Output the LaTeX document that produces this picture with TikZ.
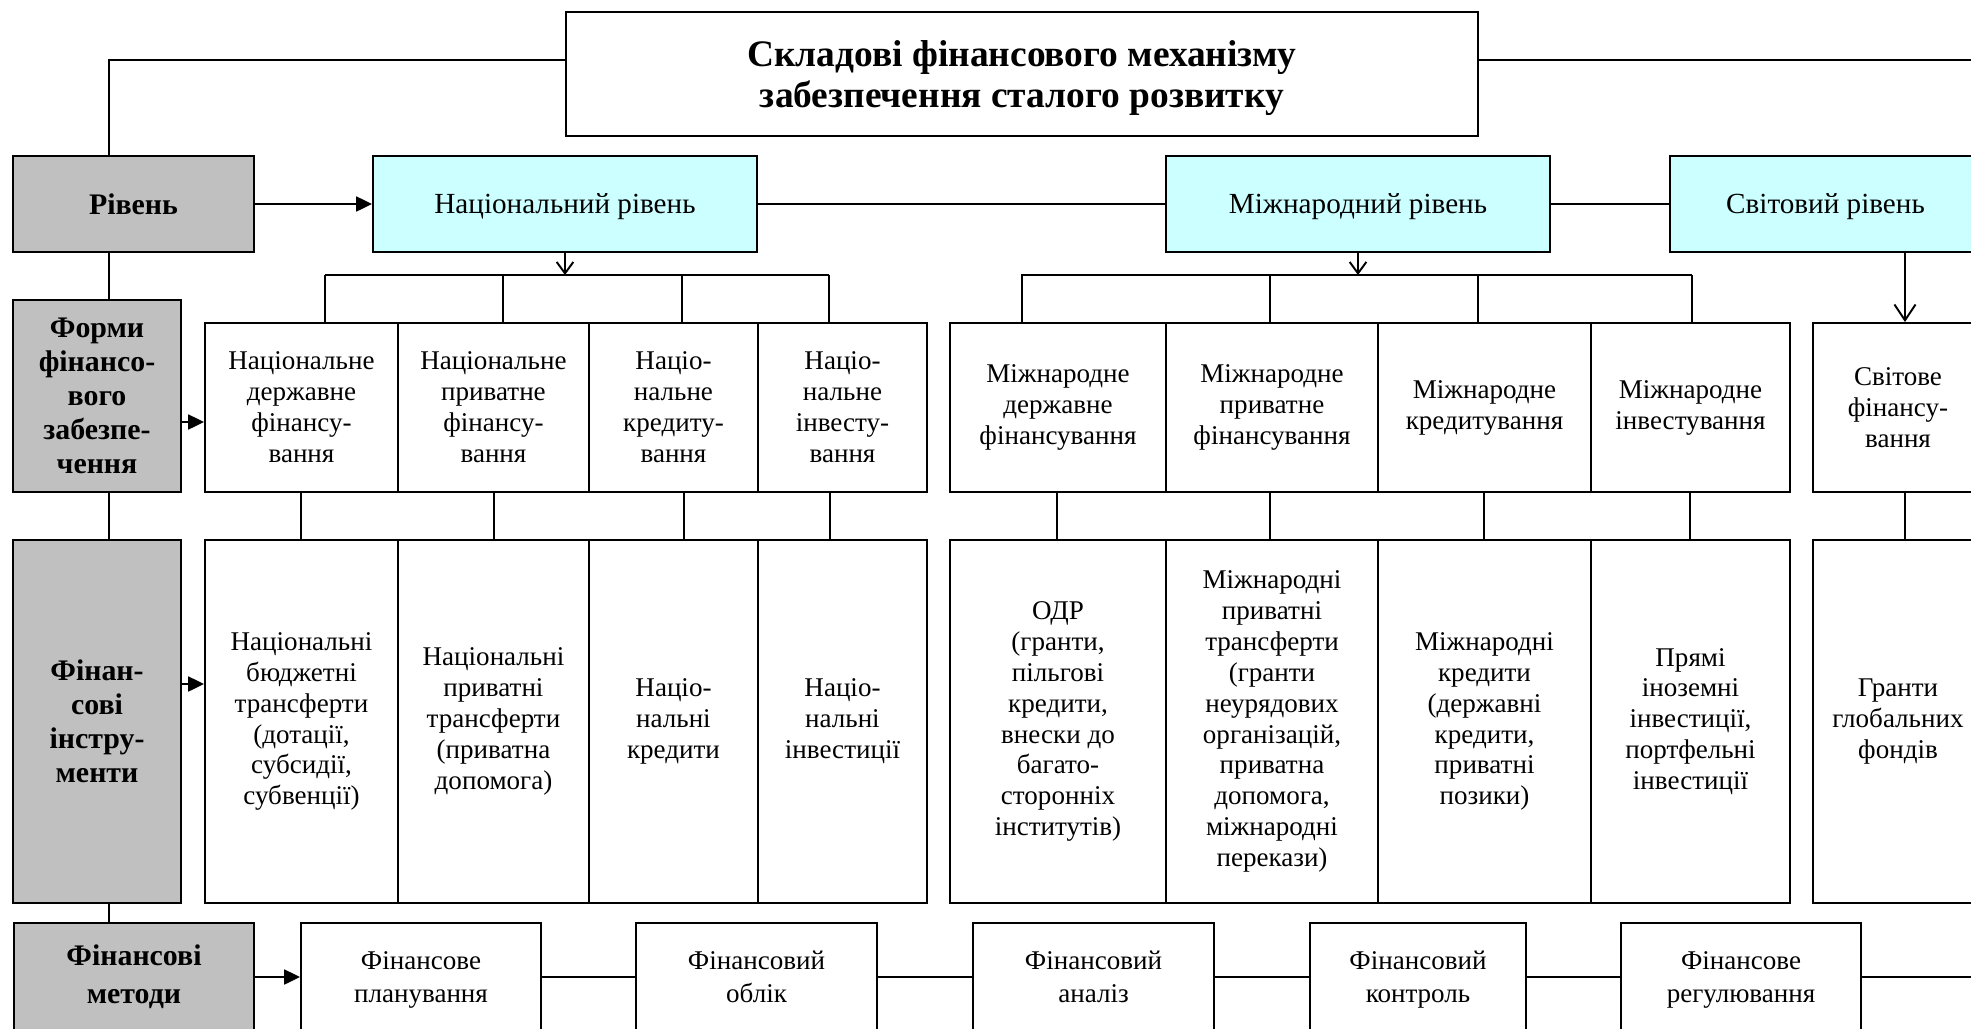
\documentclass[tikz,border=0pt]{standalone}
\usepackage{fontspec}
\setmainfont{Liberation Serif}
\usetikzlibrary{arrows.meta}
\definecolor{lvlfill}{HTML}{CCFFFF}
\definecolor{hdrfill}{HTML}{C0C0C0}

\tikzset{
  box/.style={draw, line width=1.1pt, inner sep=1pt, align=center,
    font=\fontsize{15.4}{17.6}\selectfont},
  level/.style={box, fill=lvlfill, text depth=0pt, font=\fontsize{16.6}{19}\selectfont},
  hdr/.style={box, fill=hdrfill, font=\bfseries\fontsize{17}{19.4}\selectfont},
  titlebox/.style={box, text depth=0pt, font=\bfseries\fontsize{21.3}{23.6}\selectfont},
  method/.style={box, text depth=0pt, font=\fontsize{15.4}{18.6}\selectfont},
  conn/.style={line width=1.1pt},
  fat/.style={conn, -{Triangle[length=9pt,width=8.5pt]}},
  vee/.style={conn, -{Straight Barb[length=6.5pt,width=9.5pt]}},
  bigvee/.style={conn, -{Straight Barb[length=9pt,width=12pt]}},
}

% box given by its corners (x1,y1)-(x2,y2), in pixel units
\newcommand\pbox[7]{%
  \pgfmathsetmacro\bw{(#5-#3)*0.02}%
  \pgfmathsetmacro\bh{(#6-#4)*0.02}%
  \node[#1, minimum width=\bw cm, minimum height=\bh cm] (#2)
    at ({(#3+#5)/2},{(#4+#6)/2}) {#7};}

\begin{document}
\begin{tikzpicture}[x=0.02cm, y=-0.02cm]
\useasboundingbox (0,0) rectangle (1971,1028);
\clip (0,0) rectangle (1971,1028);
\fill[white] (0,0) rectangle (1971,1028);

% title
\pbox{titlebox}{title}{566}{12}{1478}{136}{Складові фінансового механізму\\забезпечення сталого розвитку}

% row headers
\pbox{hdr}{rivenj}{13}{156}{254}{252}{Рівень}
\pbox{hdr}{formy}{13}{300}{181}{492}{Форми\\фінансо-\\вого\\забезпе-\\чення}
\pbox{hdr}{instr}{13}{540}{181}{903}{Фінан-\\сові\\інстру-\\менти}
\pbox{hdr, font=\bfseries\fontsize{17}{21.4}\selectfont}{metody}{14}{923}{254}{1031}{Фінансові\\методи}

% levels
\pbox{level}{nat}{373}{156}{757}{252}{Національний рівень}
\pbox{level}{mizh}{1166}{156}{1550}{252}{Міжнародний рівень}
\pbox{level}{svit}{1670}{156}{1981}{252}{Світовий рівень}

% forms of financial support
\pbox{box}{nf1}{205}{323}{398}{492}{Національне\\державне\\фінансу-\\вання}
\pbox{box}{nf2}{398}{323}{589}{492}{Національне\\приватне\\фінансу-\\вання}
\pbox{box}{nf3}{589}{323}{758}{492}{Націо-\\нальне\\кредиту-\\вання}
\pbox{box}{nf4}{758}{323}{927}{492}{Націо-\\нальне\\інвесту-\\вання}
\pbox{box}{mf1}{950}{323}{1166}{492}{Міжнародне\\державне\\фінансування}
\pbox{box}{mf2}{1166}{323}{1378}{492}{Міжнародне\\приватне\\фінансування}
\pbox{box}{mf3}{1378}{323}{1591}{492}{Міжнародне\\кредитування}
\pbox{box}{mf4}{1591}{323}{1790}{492}{Міжнародне\\інвестування}
\pbox{box}{sf}{1813}{323}{1983}{492}{Світове\\фінансу-\\вання}

% financial instruments
\pbox{box}{ni1}{205}{540}{398}{903}{Національні\\бюджетні\\трансферти\\(дотації,\\субсидії,\\субвенції)}
\pbox{box}{ni2}{398}{540}{589}{903}{Національні\\приватні\\трансферти\\(приватна\\допомога)}
\pbox{box}{ni3}{589}{540}{758}{903}{Націо-\\нальні\\кредити}
\pbox{box}{ni4}{758}{540}{927}{903}{Націо-\\нальні\\інвестиції}
\pbox{box}{mi1}{950}{540}{1166}{903}{ОДР\\(гранти,\\пільгові\\кредити,\\внески до\\багато-\\сторонніх\\інститутів)}
\pbox{box}{mi2}{1166}{540}{1378}{903}{Міжнародні\\приватні\\трансферти\\(гранти\\неурядових\\організацій,\\приватна\\допомога,\\міжнародні\\перекази)}
\pbox{box}{mi3}{1378}{540}{1591}{903}{Міжнародні\\кредити\\(державні\\кредити,\\приватні\\позики)}
\pbox{box}{mi4}{1591}{540}{1790}{903}{Прямі\\іноземні\\інвестиції,\\портфельні\\інвестиції}
\pbox{box}{si}{1813}{540}{1983}{903}{Гранти\\глобальних\\фондів}

% financial methods
\pbox{method}{m1}{301}{923}{541}{1031}{Фінансове\\планування}
\pbox{method}{m2}{636}{923}{877}{1031}{Фінансовий\\облік}
\pbox{method}{m3}{973}{923}{1214}{1031}{Фінансовий\\аналіз}
\pbox{method}{m4}{1310}{923}{1526}{1031}{Фінансовий\\контроль}
\pbox{method}{m5}{1621}{923}{1861}{1031}{Фінансове\\регулювання}

% helper coordinates
\coordinate (sp) at (109,0);
\coordinate (redge) at (1971,0);
\coordinate (tw) at ([yshift=0.28cm]title.west);
\coordinate (te) at ([yshift=0.28cm]title.east);
\coordinate (nb) at (0,275);
\coordinate (fa) at (0,422);
\coordinate (ia) at (0,684);

% left spine
\draw[conn] (tw) -| (sp |- rivenj.north);
\draw[conn] (te) -- (te -| redge);
\draw[conn] (sp |- rivenj.south) -- (sp |- formy.north);
\draw[conn] (sp |- formy.south) -- (sp |- instr.north);
\draw[conn] (sp |- instr.south) -- (sp |- metody.north);

% level row
\draw[fat] (rivenj.east) -- (nat.west);
\draw[conn] (nat.east) -- (mizh.west);
\draw[conn] (mizh.east) -- (svit.west);

% national bus
\draw[vee] (nat.south) -- (nat.south |- nb);
\draw[conn] (325,275) -- (829,275);
\foreach \x/\n in {325/nf1, 503/nf2, 682/nf3, 829/nf4}
  \draw[conn] (\x,275) -- (\x,275 |- \n.north);

% international bus
\draw[vee] (mizh.south) -- (mizh.south |- nb);
\draw[conn] (1021,275) -- (1692,275);
\foreach \x/\n in {1022/mf1, 1270/mf2, 1478/mf3, 1692/mf4}
  \draw[conn] (\x,275) -- (\x,275 |- \n.north);

% world level
\draw[bigvee] (1905,0 |- svit.south) -- (1905,0 |- sf.north);

% forms to instruments
\foreach \x/\a/\b in {301/nf1/ni1, 494/nf2/ni2, 684/nf3/ni3, 830/nf4/ni4,
                      1057/mf1/mi1, 1270/mf2/mi2, 1484/mf3/mi3, 1690/mf4/mi4,
                      1905/sf/si}
  \draw[conn] (\x,0 |- \a.south) -- (\x,0 |- \b.north);

% header arrows
\draw[fat] (formy.east |- fa) -- (nf1.west |- fa);
\draw[fat] (instr.east |- ia) -- (ni1.west |- ia);
\draw[fat] (metody.east) -- (m1.west);

% methods chain
\draw[conn] (m1.east) -- (m2.west);
\draw[conn] (m2.east) -- (m3.west);
\draw[conn] (m3.east) -- (m4.west);
\draw[conn] (m4.east) -- (m5.west);
\draw[conn] (m5.east) -- (m5.east -| redge);
\end{tikzpicture}
\end{document}
